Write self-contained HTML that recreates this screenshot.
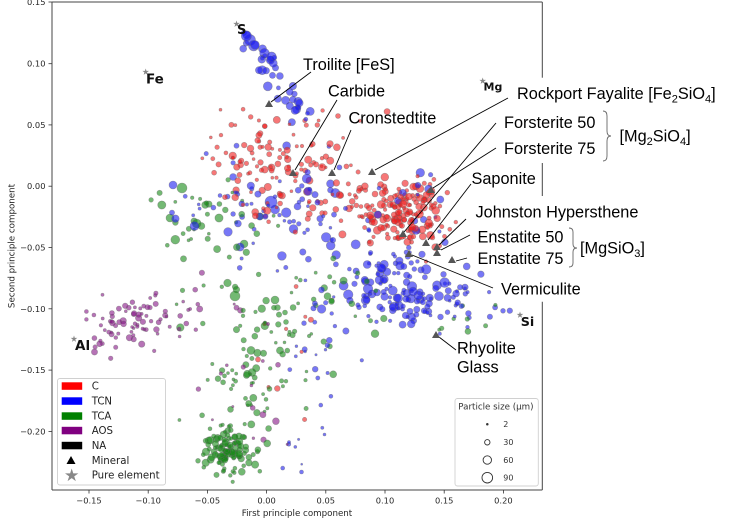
<!DOCTYPE html>
<html><head><meta charset="utf-8"><style>
html,body{margin:0;padding:0;background:#fff;}
svg{display:block;}
.tk{font-family:"DejaVu Sans","Liberation Sans",sans-serif;font-size:8.3px;fill:#262626;}
.an{font-family:"Liberation Sans",Arial,sans-serif;font-size:16.3px;fill:#000;}
.el{font-family:"DejaVu Sans","Liberation Sans",sans-serif;font-weight:bold;fill:#111;}
.lg{font-family:"DejaVu Sans","Liberation Sans",sans-serif;font-size:10.2px;fill:#222;}
.ps{font-family:"DejaVu Sans","Liberation Sans",sans-serif;fill:#333;}
</style></head><body>
<svg width="753" height="524" viewBox="0 0 753 524" xmlns="http://www.w3.org/2000/svg">
<rect x="0" y="0" width="753" height="524" fill="#fff"/>
<g id="pts" fill-opacity="0.6" stroke="#666" stroke-opacity="0.5" stroke-width="0.6"></g>

<!-- frame -->
<g stroke="#444" stroke-width="1" fill="none">
<line x1="52" y1="2" x2="542.3" y2="2"/>
<line x1="52" y1="2" x2="52" y2="490"/>
<line x1="52" y1="490" x2="542.3" y2="490"/>
<line x1="542.3" y1="2" x2="542.3" y2="77.7"/>
<line x1="542.3" y1="161.7" x2="542.3" y2="196"/>
<line x1="542.3" y1="301.7" x2="542.3" y2="490"/>
</g>

<!-- ticks -->
<g stroke="#333" stroke-width="0.8">
<line x1="48.5" y1="2" x2="52" y2="2"/>
<line x1="48.5" y1="63.7" x2="52" y2="63.7"/>
<line x1="48.5" y1="124.9" x2="52" y2="124.9"/>
<line x1="48.5" y1="186.2" x2="52" y2="186.2"/>
<line x1="48.5" y1="247.5" x2="52" y2="247.5"/>
<line x1="48.5" y1="308.8" x2="52" y2="308.8"/>
<line x1="48.5" y1="370.1" x2="52" y2="370.1"/>
<line x1="48.5" y1="431.4" x2="52" y2="431.4"/>
<line x1="89" y1="490" x2="89" y2="493.5"/>
<line x1="148.2" y1="490" x2="148.2" y2="493.5"/>
<line x1="207.4" y1="490" x2="207.4" y2="493.5"/>
<line x1="266.6" y1="490" x2="266.6" y2="493.5"/>
<line x1="325.8" y1="490" x2="325.8" y2="493.5"/>
<line x1="385" y1="490" x2="385" y2="493.5"/>
<line x1="444.2" y1="490" x2="444.2" y2="493.5"/>
<line x1="503.4" y1="490" x2="503.4" y2="493.5"/>
</g>
<g class="tk" text-anchor="end">
<text x="45.5" y="5">0.15</text>
<text x="45.5" y="66.7">0.10</text>
<text x="45.5" y="127.9">0.05</text>
<text x="45.5" y="189.2">0.00</text>
<text x="45.5" y="250.5">−0.05</text>
<text x="45.5" y="311.8">−0.10</text>
<text x="45.5" y="373.1">−0.15</text>
<text x="45.5" y="434.4">−0.20</text>
</g>
<g class="tk" text-anchor="middle">
<text x="89" y="503.5">−0.15</text>
<text x="148.2" y="503.5">−0.10</text>
<text x="207.4" y="503.5">−0.05</text>
<text x="266.6" y="503.5">0.00</text>
<text x="325.8" y="503.5">0.05</text>
<text x="385" y="503.5">0.10</text>
<text x="444.2" y="503.5">0.15</text>
<text x="503.4" y="503.5">0.20</text>
</g>
<text class="tk" x="297" y="516" text-anchor="middle" style="font-size:8.7px">First principle component</text>
<text class="tk" transform="translate(14.5,246) rotate(-90)" text-anchor="middle" style="font-size:8.7px">Second principle component</text>

<!-- white label boxes -->
<g fill="#fff">
<rect x="513" y="81" width="210" height="24"/>
<rect x="500" y="110" width="196" height="53"/>
<rect x="468" y="168" width="70" height="21"/>
<rect x="472" y="200" width="173" height="22"/>
<rect x="474" y="226" width="174" height="43"/>
<rect x="497" y="279" width="88" height="21"/>
<rect x="453" y="338" width="68" height="39"/>
</g>

<!-- annotation lines -->
<g stroke="#000" stroke-width="0.9" fill="none">
<line x1="311" y1="72" x2="271" y2="102"/>
<line x1="337" y1="100" x2="295" y2="170"/>
<line x1="351" y1="130" x2="334" y2="170"/>
<line x1="508" y1="98" x2="375" y2="170"/>
<line x1="496" y1="123" x2="404" y2="232"/>
<line x1="496" y1="148" x2="433" y2="188"/>
<line x1="471" y1="184" x2="428" y2="240"/>
<line x1="466" y1="219" x2="439" y2="245"/>
<line x1="470" y1="235" x2="441" y2="250"/>
<line x1="467" y1="258" x2="456" y2="261"/>
<line x1="493" y1="288" x2="412" y2="255"/>
<line x1="456" y1="350" x2="439" y2="337"/>
</g>
<!-- mineral triangles -->
<g fill="#555">
<polygon transform="translate(269,104)" points="0,-4 4,3 -4,3"/>
<polygon transform="translate(293,173)" points="0,-4 4,3 -4,3"/>
<polygon transform="translate(332,173)" points="0,-4 4,3 -4,3"/>
<polygon transform="translate(372,172)" points="0,-4 4,3 -4,3"/>
<polygon transform="translate(431,190)" points="0,-4 4,3 -4,3"/>
<polygon transform="translate(403,234)" points="0,-4 4,3 -4,3"/>
<polygon transform="translate(426,243)" points="0,-4 4,3 -4,3"/>
<polygon transform="translate(437,247)" points="0,-4 4,3 -4,3"/>
<polygon transform="translate(437,253)" points="0,-4 4,3 -4,3"/>
<polygon transform="translate(452,260)" points="0,-4 4,3 -4,3"/>
<polygon transform="translate(409,254)" points="0,-4 4,3 -4,3"/>
<polygon transform="translate(436,335)" points="0,-4 4,3 -4,3"/>
</g>

<!-- pure element stars -->
<g fill="#888">
<polygon transform="translate(236.5,24) scale(3.5)" points="0,-1 0.2245,-0.309 0.951,-0.309 0.363,0.118 0.588,0.809 0,0.382 -0.588,0.809 -0.363,0.118 -0.951,-0.309 -0.2245,-0.309"/>
<polygon transform="translate(145.7,72) scale(3.5)" points="0,-1 0.2245,-0.309 0.951,-0.309 0.363,0.118 0.588,0.809 0,0.382 -0.588,0.809 -0.363,0.118 -0.951,-0.309 -0.2245,-0.309"/>
<polygon transform="translate(482.7,81) scale(3.5)" points="0,-1 0.2245,-0.309 0.951,-0.309 0.363,0.118 0.588,0.809 0,0.382 -0.588,0.809 -0.363,0.118 -0.951,-0.309 -0.2245,-0.309"/>
<polygon transform="translate(74,339) scale(3.5)" points="0,-1 0.2245,-0.309 0.951,-0.309 0.363,0.118 0.588,0.809 0,0.382 -0.588,0.809 -0.363,0.118 -0.951,-0.309 -0.2245,-0.309"/>
<polygon transform="translate(520,315) scale(3.5)" points="0,-1 0.2245,-0.309 0.951,-0.309 0.363,0.118 0.588,0.809 0,0.382 -0.588,0.809 -0.363,0.118 -0.951,-0.309 -0.2245,-0.309"/>
</g>
<text class="el" x="237" y="34" style="font-size:13px">S</text>
<text class="el" x="146" y="83.3" style="font-size:13.5px">Fe</text>
<text class="el" x="483.5" y="90.5" style="font-size:11px">Mg</text>
<text class="el" x="75" y="350" style="font-size:13.5px">Al</text>
<text class="el" x="520.7" y="326" style="font-size:12.7px">Si</text>

<!-- annotation text -->
<g class="an">
<text x="303" y="70">Troilite [FeS]</text>
<text x="328" y="96.5">Carbide</text>
<text x="348.5" y="123.5">Cronstedtite</text>
<text x="517" y="99">Rockport Fayalite [Fe<tspan font-size="11" dy="3.5">2</tspan><tspan dy="-3.5">SiO</tspan><tspan font-size="11" dy="3.5">4</tspan><tspan dy="-3.5">]</tspan></text>
<text x="504" y="128">Forsterite 50</text>
<text x="504" y="154">Forsterite 75</text>
<text x="619.5" y="141.5">[Mg<tspan font-size="11" dy="3.5">2</tspan><tspan dy="-3.5">SiO</tspan><tspan font-size="11" dy="3.5">4</tspan><tspan dy="-3.5">]</tspan></text>
<text x="471.5" y="184">Saponite</text>
<text x="475.5" y="217.3">Johnston Hypersthene</text>
<text x="477.5" y="242.3">Enstatite 50</text>
<text x="477.5" y="264">Enstatite 75</text>
<text x="580" y="253.3">[MgSiO<tspan font-size="11" dy="3.5">3</tspan><tspan dy="-3.5">]</tspan></text>
<text x="501" y="294.3">Vermiculite</text>
<text x="457" y="353.3">Rhyolite</text>
<text x="457" y="372.3">Glass</text>
</g>
<!-- braces -->
<g stroke="#666" stroke-width="0.9" fill="none">
<path d="M603,111 Q607,111 607,116 L607,131 Q607,136 611,136 Q607,136 607,141 L607,156 Q607,161 603,161"/>
<path d="M569,228 Q573,228 573,232 L573,244 Q573,248 577,248 Q573,248 573,252 L573,263 Q573,267 569,267"/>
</g>

<!-- category legend -->
<rect x="57.5" y="378.5" width="108" height="106.5" rx="2.5" fill="#fff" fill-opacity="0.85" stroke="#d0d0d0" stroke-width="0.9"/>
<rect x="61.7" y="382.3" width="20.5" height="7.5" fill="#ff0000"/>
<rect x="61.7" y="397.3" width="20.5" height="7.5" fill="#0000ff"/>
<rect x="61.7" y="412.3" width="20.5" height="7.5" fill="#008000"/>
<rect x="61.7" y="426.8" width="20.5" height="7.5" fill="#800080"/>
<rect x="61.7" y="441.8" width="20.5" height="7.5" fill="#000000"/>
<polygon transform="translate(71,460.5)" points="0,-4.5 4.5,3.5 -4.5,3.5" fill="#000"/>
<polygon transform="translate(71.7,475.5) scale(7)" fill="#888" points="0,-1 0.2245,-0.309 0.951,-0.309 0.363,0.118 0.588,0.809 0,0.382 -0.588,0.809 -0.363,0.118 -0.951,-0.309 -0.2245,-0.309"/>
<g class="lg">
<text x="91.7" y="389.7">C</text>
<text x="91.7" y="404.7">TCN</text>
<text x="91.7" y="419.7">TCA</text>
<text x="91.7" y="434.2">AOS</text>
<text x="91.7" y="449.2">NA</text>
<text x="91.7" y="464">Mineral</text>
<text x="91.7" y="478.7">Pure element</text>
</g>

<!-- size legend -->
<rect x="455" y="398.5" width="83.3" height="87.5" rx="2.5" fill="#fff" fill-opacity="0.85" stroke="#d0d0d0" stroke-width="0.9"/>
<text class="ps" x="458.3" y="409.5" style="font-size:8.7px">Particle size (μm)</text>
<g fill="none" stroke="#333" stroke-width="0.9">
<circle cx="487.3" cy="424.3" r="0.8" fill="#333"/>
<circle cx="487.3" cy="442.3" r="2.7"/>
<circle cx="487.3" cy="460" r="4.2"/>
<circle cx="487.3" cy="477.7" r="5.3"/>
</g>
<g class="ps" style="font-size:8px">
<text x="503.3" y="427.2">2</text>
<text x="503.3" y="445.2">30</text>
<text x="503.3" y="462.9">60</text>
<text x="503.3" y="480.6">90</text>
</g>
</svg>
<script>
(function(){
var s=12345;
function R(){s|=0;s=s+0x6D2B79F5|0;var t=Math.imul(s^s>>>15,1|s);t=t+Math.imul(t^t>>>7,61|t)^t;return((t^t>>>14)>>>0)/4294967296;}
function G(){return (R()+R()+R()+R()-2)/0.577;}
var col={r:'#f01c1c',b:'#1c1cf0',g:'#168a16',p:'#851585'};
/* color, n, cx, cy, sx, sy, rmin, rmax, slope */
var C=[
['r',150,392,215,27,15,1.8,4.0,0.25],
['r',35,418,198,13,10,1.8,3.6,0],
['r',115,288,165,40,28,1.5,3.8,0],
['r',20,240,150,20,18,1.5,3,0],
['r',10,270,360,30,50,1.5,3,0],
['b',115,395,290,33,20,1.8,5,0],
['b',95,330,225,55,40,1.5,5,0],
['b',30,470,302,22,16,1.5,4,0],
['b',25,235,200,30,25,1.5,4,0],
['b',20,310,360,20,50,1.2,3,0],
['b',8,300,450,15,15,1,2,0],
['g',115,226,452,12,13,1.8,3.8,0],
['g',85,255,370,25,40,1.5,4,0],
['g',50,212,230,30,35,1.5,4.5,0],
['g',30,320,300,35,20,1.5,4,0],
['g',8,465,320,20,12,1.5,3,0],
['p',85,140,322,30,15,1.5,3.2,-0.22],
['p',20,245,400,25,40,1.2,3.5,0]
];
var pts=[];
C.forEach(function(c){for(var i=0;i<c[1];i++){var dx=G()*c[4];var x=c[2]+dx,y=c[3]+G()*c[5]+dx*c[8];var r=c[6]+(c[7]-c[6])*Math.pow(R(),1.6);pts.push([x,y,r,c[0]]);}});
for(var i=0;i<42;i++){var t=R();pts.push([248+55*t+G()*7,38+78*t+G()*5,2+3.5*Math.pow(R(),0.8)*(1-0.4*t),'b']);}
pts.push([182,188,5,'g'],[235,296,5,'g'],[271,202,6,'b'],[173,185,4,'b'],[250,40,5.5,'b'],[170,218,4,'g']);
for(var i=pts.length-1;i>0;i--){var j=Math.floor(R()*(i+1));var tmp=pts[i];pts[i]=pts[j];pts[j]=tmp;}
var g=document.getElementById('pts'),h='';
function inLabel(x,y){return (x>472&&y>198&&y<270)||(x>497&&y>278&&y<300)||(x>465&&y>166&&y<190)||(x>455&&y>336&&y<378)||(x>500&&y>108&&y<164);}
pts.forEach(function(p){if(p[0]<55||p[0]>539||p[1]<5||p[1]>487)return;if(inLabel(p[0],p[1]))return;if(p[3]=='p'&&p[0]<80)return;h+='<circle cx="'+p[0].toFixed(1)+'" cy="'+p[1].toFixed(1)+'" r="'+p[2].toFixed(1)+'" fill="'+col[p[3]]+'"/>';});
g.innerHTML=h;
})();
</script>
</body></html>
